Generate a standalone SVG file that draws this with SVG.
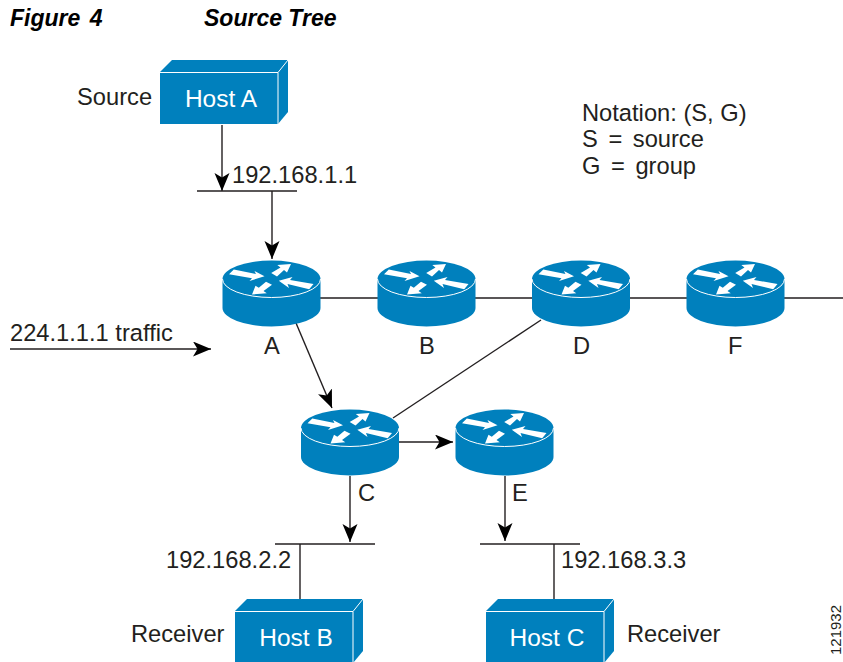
<svg xmlns="http://www.w3.org/2000/svg" xmlns:xlink="http://www.w3.org/1999/xlink" width="843" height="662" viewBox="0 0 843 662">
<style>
text{font-family:"Liberation Sans",Arial,sans-serif;font-size:23.7px;fill:#231f20}
.t{font-weight:bold;font-style:italic;font-size:23px;fill:#000}
.w{fill:#fff;text-anchor:middle;font-size:24.5px}
.n{word-spacing:4px}
.c{stroke:#231f20;stroke-width:1.4;fill:none}
.a{marker-end:url(#ah)}
.b{fill:#0080bd}
</style>
<defs>
<marker id="ah" markerUnits="userSpaceOnUse" markerWidth="20" markerHeight="16" refX="18" refY="7.5" orient="auto"><path d="M0 0L18 7.5L0 15L4.5 7.5Z" fill="#000"/></marker>
<g id="router">
<path class="b" d="M-49 0A49 18.5 0 0 1 49 0V29A49 18.5 0 0 1 -49 29Z"/>
<path d="M-49 0A49 18.5 0 0 0 49 0" fill="none" stroke="#fff" stroke-width="1"/>
<path fill="#fff" d="M-37.7-9.5L-15.5-5L-17-8L-7-2.7L-22 2L-19.5-.8L-42.5-4.8Z"/>
<path fill="#fff" d="M5.5-2.5L-.3-6L9-11.5L5.8-14L19.5-15L15.5-6.5L12.5-9Z"/>
<path fill="#fff" d="M-19.5 15.5L-16 6.8L-12.7 8.7L-5.5 2.8L.5 5.7L-8 12L-4.7 14.3Z"/>
<path fill="#fff" d="M7.3 1.7L21-2L18.5 1L42 5L37.7 10.3L16 5L17.5 9Z"/>
</g>
<g id="host">
<path class="b" d="M0 0L12-12H128V40L118 52H0Z"/>
<path d="M0 .5H118V52M118 .5L128-12" fill="none" stroke="#fff" stroke-width="1"/>
</g>
</defs>
<g id="connectors">
<path class="c a" d="M222 125V191"/>
<path class="c" d="M197 191H297"/>
<path class="c a" d="M272 191V259"/>
<path class="c" d="M320 298H378M475 298H533M630 298H687M784 298H843"/>
<path class="c a" d="M296 323L332 408"/>
<path class="c" d="M393 418L541 320"/>
<path class="c a" d="M399 442H453"/>
<path class="c a" d="M10 349H211"/>
<path class="c a" d="M350 476V542"/>
<path class="c" d="M275 544H375"/>
<path class="c" d="M300 544V599"/>
<path class="c a" d="M505 476V541"/>
<path class="c" d="M480 544H580"/>
<path class="c" d="M554 544V599"/>
</g>
<g id="title"><text class="t" x="10" y="26" style="word-spacing:3px">Figure 4</text><text class="t" x="204" y="26">Source Tree</text></g>
<g id="hostA"><use xlink:href="#host" x="160" y="72"/><text class="w" x="221" y="107">Host A</text></g>
<g id="hostB"><use xlink:href="#host" x="235" y="611"/><text class="w" x="296" y="646">Host B</text></g>
<g id="hostC"><use xlink:href="#host" x="486" y="611"/><text class="w" x="547" y="646">Host C</text></g>
<g id="routerA"><use xlink:href="#router" x="271.5" y="279"/><text x="264" y="354">A</text></g>
<g id="routerB"><use xlink:href="#router" x="426.5" y="279"/><text x="419" y="354">B</text></g>
<g id="routerD"><use xlink:href="#router" x="581" y="279"/><text x="573" y="354">D</text></g>
<g id="routerF"><use xlink:href="#router" x="735.5" y="279"/><text x="728" y="354">F</text></g>
<g id="routerC"><use xlink:href="#router" x="350" y="428"/><text x="358" y="501">C</text></g>
<g id="routerE"><use xlink:href="#router" x="504.5" y="428"/><text x="512" y="501">E</text></g>
<g id="labels">
<text x="77" y="105">Source</text>
<text x="232" y="183">192.168.1.1</text>
<text x="582" y="121">Notation: (S, G)</text>
<text class="n" x="582" y="147">S = source</text>
<text class="n" x="582" y="174">G = group</text>
<text x="10" y="341">224.1.1.1 traffic</text>
<text x="166" y="568">192.168.2.2</text>
<text x="561" y="568">192.168.3.3</text>
<text x="131" y="642">Receiver</text>
<text x="627" y="642">Receiver</text>
<text transform="translate(841 655) rotate(-90)" style="font-size:15px">121932</text>
</g>
</svg>
